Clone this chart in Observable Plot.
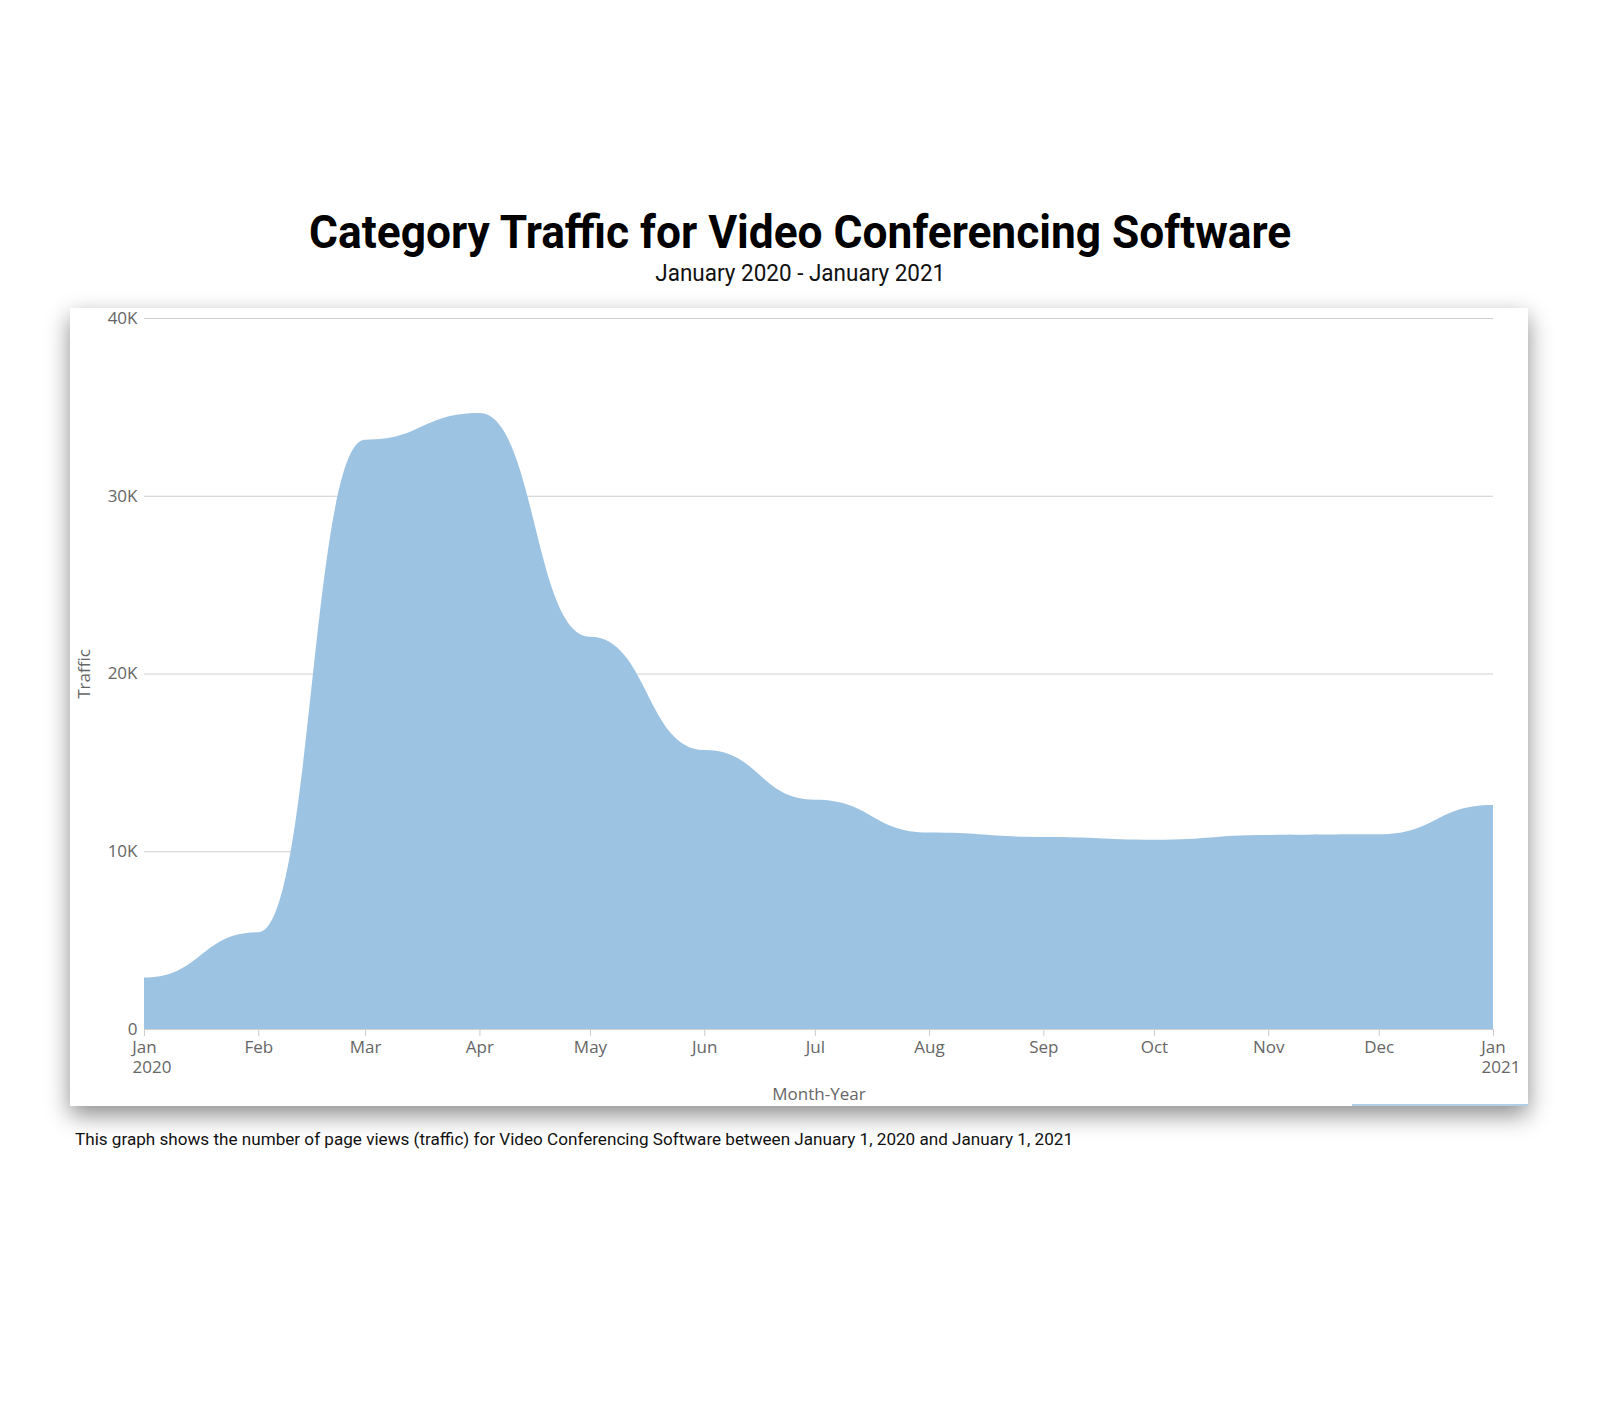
<!DOCTYPE html>
<html>
<head>
<meta charset="utf-8">
<script src="https://cdn.jsdelivr.net/npm/d3@7"></script>
<script src="https://cdn.jsdelivr.net/npm/@observablehq/plot@0.6"></script>
<style>
  html, body { margin: 0; padding: 0; background: #fff; }
  #page { position: relative; width: 1600px; height: 1419px; overflow: hidden; background: #fff; }
  .line { position: absolute; left: 0; width: 1600px; text-align: center; white-space: nowrap; line-height: 1; }
  .line span { display: inline-block; transform-origin: 50% 50%; }
  #title { top: 209px; font-family: Roboto, sans-serif; font-weight: 700; font-size: 46px; color: #000; }
  #subtitle { top: 262px; font-family: Roboto, sans-serif; font-weight: 400; font-size: 23px; color: #111; }
  #caption { position: absolute; left: 75px; top: 1132px; white-space: nowrap; line-height: 1;
             font-family: Roboto, sans-serif; font-size: 16.5px; color: #111; }
  #caption span { display: inline-block; transform-origin: 0 50%; }
  #box { position: absolute; left: 70px; top: 308px; width: 1458px; height: 798px; background: #fff;
         box-shadow: 0 9px 22px rgba(0,0,0,0.45); }
  #box svg { display: block; }
  #strip { position: absolute; left: 1352px; top: 1104px; width: 176px; height: 2px; background: #b3cfe7; }
</style>
</head>
<body>
<div id="page">
  <div class="line" id="title"><span>Category Traffic for Video Conferencing Software</span></div>
  <div class="line" id="subtitle"><span>January 2020 - January 2021</span></div>
  <div id="box"></div>
  <div id="strip"></div>
  <div id="caption"><span>This graph shows the number of page views (traffic) for Video Conferencing Software between January 1, 2020 and January 1, 2021</span></div>
</div>
<script>
// ---- data ----
const months = ["2020-01-01","2020-02-01","2020-03-01","2020-04-01","2020-05-01","2020-06-01","2020-07-01",
                "2020-08-01","2020-09-01","2020-10-01","2020-11-01","2020-12-01","2021-01-01"];
const traffic = [2900, 5450, 33150, 34650, 22070, 15700, 12900, 11050, 10800, 10650, 10920, 10950, 12600];
const yTicks = [0, 10000, 20000, 30000, 40000];
const yearTicks = ["2020-01-01", "2021-01-01"];

const data = months.map((m, i) => ({date: new Date(m + "T00:00:00Z"), value: traffic[i]}));
const monthDates = months.map(m => new Date(m + "T00:00:00Z"));
const yearDates = yearTicks.map(m => new Date(m + "T00:00:00Z"));

const chart = Plot.plot({
  width: 1458,
  height: 798,
  marginLeft: 74,
  marginRight: 35,
  marginTop: 10,
  marginBottom: 77,
  style: {fontFamily: "'Open Sans', sans-serif", fontSize: "17px", background: "transparent", overflow: "visible"},
  x: {type: "utc", domain: [monthDates[0], monthDates[monthDates.length - 1]]},
  y: {domain: [0, 40000]},
  marks: [
    Plot.gridY(yTicks, {stroke: "#cfcfcf", strokeOpacity: 1, strokeWidth: 1.2}),
    Plot.areaY(data, {x: "date", y: "value", curve: "bump-x", fill: "#9cc3e2"}),
    Plot.axisY(yTicks, {
      tickSize: 0, tickPadding: 7, fill: "#666",
      tickFormat: d => d === 0 ? "0" : (d / 1000) + "K",
      label: "Traffic", labelAnchor: "center", labelArrow: "none", labelOffset: 67
    }),
    Plot.axisX(monthDates, {
      tickSize: 7, tickPadding: 4, stroke: "#cccccc", fill: "#666",
      tickFormat: d3.utcFormat("%b"),
      label: "Month-Year", labelAnchor: "center", labelArrow: "none", labelOffset: 70
    }),
    Plot.axisX(yearDates, {
      tickSize: 0, tickPadding: 31, fill: "#666", textAnchor: "start", dx: -12,
      tickFormat: d3.utcFormat("%Y"), label: null
    })
  ]
});
document.getElementById("box").appendChild(chart);

function fit(sel, target) {
  const el = document.querySelector(sel);
  el.style.transform = "none";
  const w = el.getBoundingClientRect().width;
  el.style.transform = `scaleX(${target / w})`;
}
function fitAll() {
  fit("#title span", 982);
  fit("#subtitle span", 290);
  fit("#caption span", 998);
}
fitAll();
if (document.fonts && document.fonts.ready) document.fonts.ready.then(fitAll);
</script>
</body>
</html>
